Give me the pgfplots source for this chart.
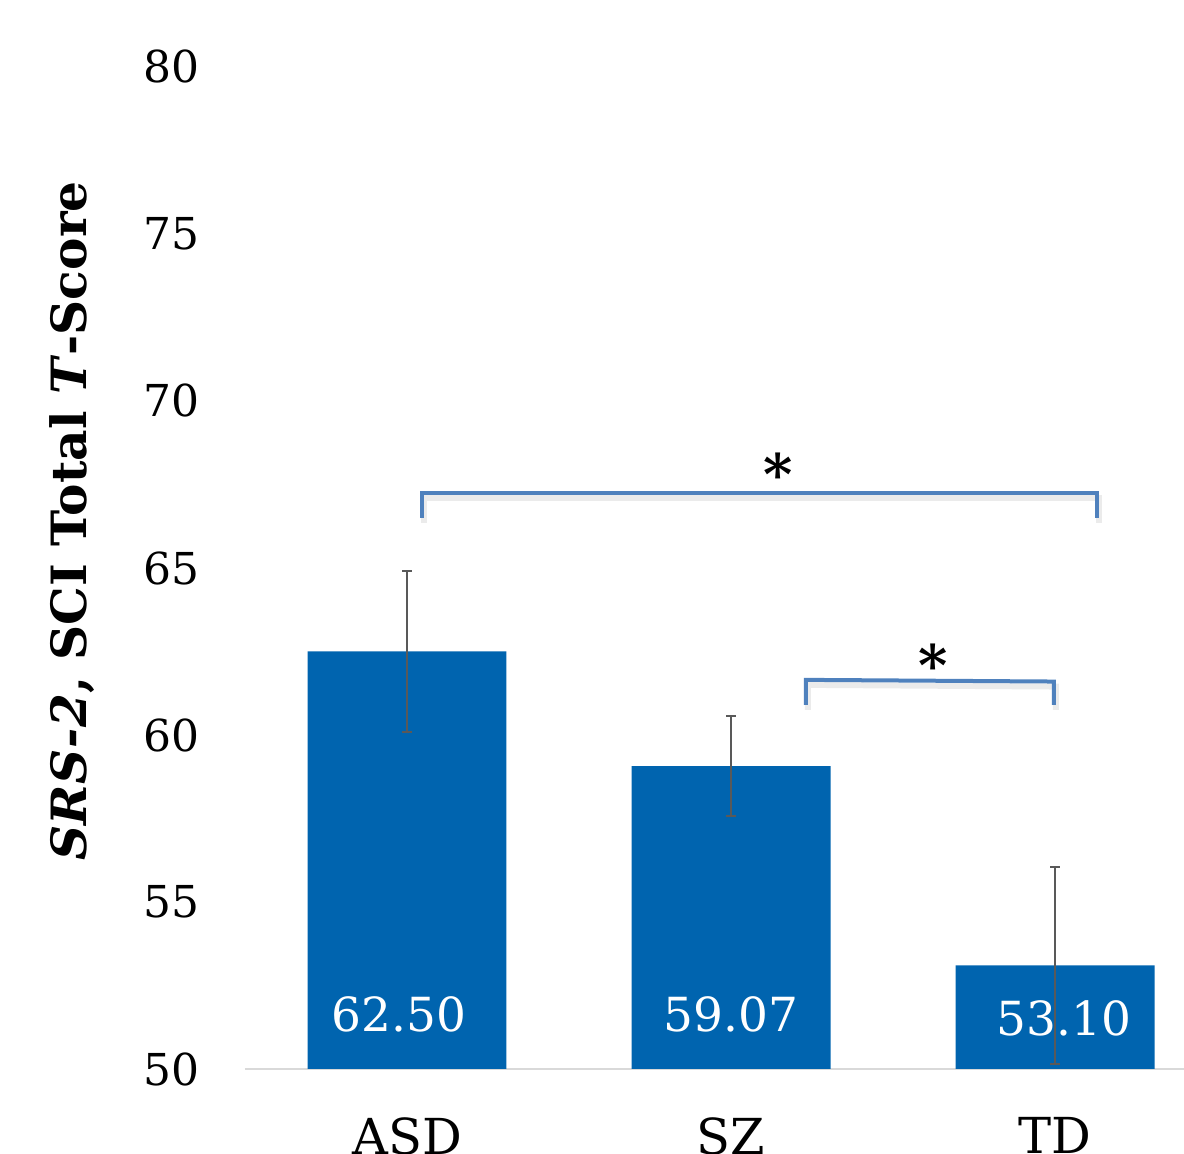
\documentclass[border=0pt]{standalone}
\usepackage{pgfplots}
\pgfplotsset{compat=1.18}
\usepackage{fontspec}
\setmainfont{DejaVu Serif}
\definecolor{barblue}{RGB}{0,100,175}
\definecolor{brk}{RGB}{79,129,189}
\definecolor{errgray}{RGB}{89,89,89}
\begin{document}
\begin{tikzpicture}
\begin{axis}[
  at={(0,0)}, anchor=south west,
  scale only axis, width=469.5pt, height=501pt,
  xmin=-0.5, xmax=2.398, ymin=50, ymax=80,
  ytick={50,55,...,80},
  xtick={0,1,2}, xticklabels={ASD,SZ,TD},
  axis x line*=bottom, axis y line*=left,
  x axis line style={draw=black!15, line width=1pt, -},
  y axis line style={draw=none},
  major tick length=0pt,
  /pgf/number format/assume math mode=true,
  yticklabel style={font=\fontsize{22}{26}\selectfont, anchor=east, inner sep=0pt, xshift=-22.5pt},
  xticklabel style={font=\fontsize{24.8}{30}\selectfont, anchor=north, inner sep=0pt, yshift=-24pt},
  clip mode=individual,
]
\addplot[ybar, bar width=0.614, fill=barblue, draw=none,
  error bars/.cd, y dir=both, y explicit,
  error bar style={errgray, line width=1pt},
  error mark options={errgray, line width=1pt, mark size=2.5pt, rotate=90}]
  coordinates {(0,62.50) +- (0,2.4) (1,59.07) +- (0,1.5) (2,53.10) +- (0,2.95)};
% bracket shadows
\addplot[black, opacity=0.08, line width=3pt, no markers, sharp plot, yshift=-2.5pt, xshift=1pt, forget plot]
  coordinates {(0.046,66.5) (0.046,67.25) (2.13,67.25) (2.13,66.5)};
\addplot[black, opacity=0.08, line width=3pt, no markers, sharp plot, yshift=-2.5pt, xshift=1pt, forget plot]
  coordinates {(1.231,60.9) (1.231,61.65) (1.996,61.6) (1.996,60.9)};
% brackets
\addplot[brk, line width=2pt, no markers, sharp plot, forget plot]
  coordinates {(0.046,66.5) (0.046,67.25) (2.13,67.25) (2.13,66.5)};
\addplot[brk, line width=2pt, no markers, sharp plot, forget plot]
  coordinates {(1.231,60.9) (1.231,61.65) (1.996,61.6) (1.996,60.9)};
% asterisks
\node[anchor=north, inner sep=0pt, font=\fontsize{28}{30}\selectfont\bfseries] at (axis cs:1.145,68.47) {*};
\node[anchor=north, inner sep=0pt, font=\fontsize{28}{30}\selectfont\bfseries] at (axis cs:1.623,62.75) {*};
% value labels
\node[white, font=\fontsize{23.5}{28}\selectfont] at (axis cs:-0.025,51.62) {62.50};
\node[white, font=\fontsize{23.5}{28}\selectfont] at (axis cs:1,51.62) {59.07};
\node[white, font=\fontsize{23.5}{28}\selectfont] at (axis cs:2.028,51.50) {53.10};
% y label
\node[rotate=90, anchor=base, inner sep=0pt, font=\fontsize{24.3}{29}\selectfont\bfseries] at (axis cs:-0.9877,66.41) {\textit{SRS-2}, SCI Total \textit{T}-Score};
\end{axis}
\pgfresetboundingbox
\path[use as bounding box] (-122.5pt,-42.5pt) rectangle (469.5pt,534.5pt);
\end{tikzpicture}
\end{document}
